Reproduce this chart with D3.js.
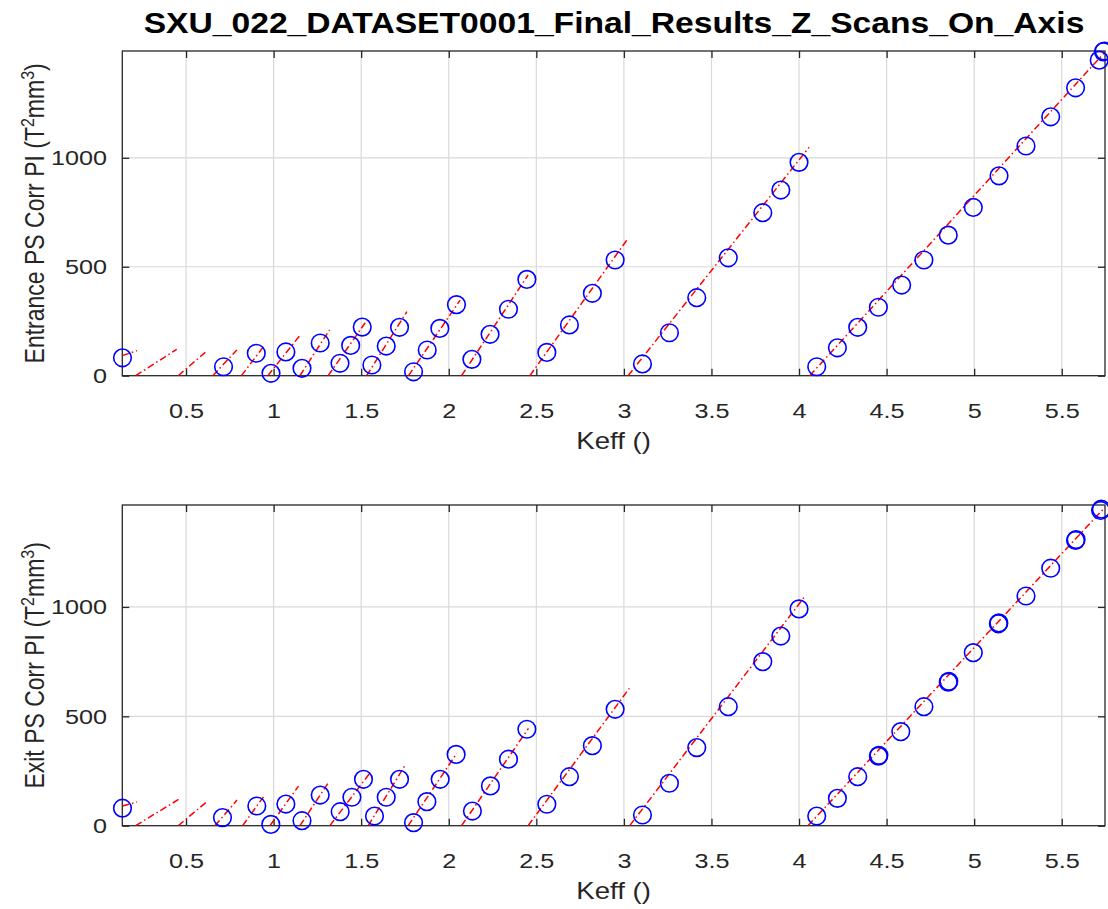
<!DOCTYPE html>
<html><head><meta charset="utf-8">
<script src="https://cdn.jsdelivr.net/npm/d3@7"></script>
<style>body{margin:0;background:#fff}svg{display:block}</style>
</head><body>
<svg id="chart" width="1108" height="909"></svg>
<script>
// ---------- data ----------
const chartTitle = "SXU_022_DATASET0001_Final_Results_Z_Scans_On_Axis";
const xLabel = "Keff ()";
const xTicks = [0.5, 1, 1.5, 2, 2.5, 3, 3.5, 4, 4.5, 5, 5.5];
const yTicks = [0, 500, 1000];
const xDomain = [0.136, 5.747];
const topYDomain = [0, 1490];
const botYDomain = [0, 1466];

// Entrance (top panel): measured points per Z scan
const topKeff = [
  [0.137], [], [], [0.714], [0.901], [0.985, 1.070], [1.162, 1.266],
  [1.379, 1.440, 1.506], [1.561, 1.643, 1.719], [1.799, 1.877, 1.949, 2.044],
  [2.132, 2.236, 2.341, 2.446], [2.560, 2.689, 2.820, 2.950],
  [3.106, 3.260, 3.416, 3.596, 3.793, 3.896, 4.000],
  [4.101, 4.219, 4.335, 4.453, 4.586, 4.713, 4.852, 4.995, 5.142, 5.296, 5.437, 5.579, 5.714, 5.738, 5.742]
];
const topPI = [
  [82], [], [], [41], [103], [11, 109], [34, 150],
  [57, 139, 223], [49, 136, 222], [18, 118, 217, 326],
  [75, 190, 305, 442], [107, 233, 378, 531],
  [54, 197, 358, 541, 748, 852, 979],
  [41, 128, 222, 314, 416, 531, 645, 772, 917, 1054, 1188, 1321, 1448, 1486, 1490]
];
// Entrance fit lines (start/end Keff, start/end PI)
const topFitKeff = [
  [0.136, 0.220], [0.212, 0.447], [0.455, 0.610], [0.653, 0.790], [0.816, 0.942],
  [0.967, 1.152], [1.150, 1.319], [1.311, 1.523], [1.531, 1.761], [1.770, 2.065],
  [2.073, 2.453], [2.463, 3.020], [3.024, 4.057], [4.061, 5.764]
];
const topFitPI = [
  [92, 115], [0, 121], [0, 107], [0, 118], [0, 133],
  [0, 187], [0, 210], [0, 243], [0, 294], [0, 347],
  [0, 462], [0, 626], [0, 1048], [0, 1500]
];

// Exit (bottom panel)
const botKeff = [
  [0.137], [], [], [0.708], [0.904], [0.984, 1.070], [1.162, 1.266],
  [1.380, 1.447, 1.513], [1.576, 1.643, 1.719], [1.799, 1.875, 1.951, 2.042],
  [2.135, 2.238, 2.341, 2.446], [2.560, 2.689, 2.820, 2.950],
  [3.106, 3.260, 3.416, 3.596, 3.793, 3.896, 4.000],
  [4.101, 4.219, 4.335, 4.453, 4.456, 4.581, 4.713, 4.852, 4.855, 4.995, 5.138, 5.141, 5.296, 5.437, 5.579, 5.582, 5.722, 5.726]
];
const botPI = [
  [80], [], [], [37], [90], [6, 99], [23, 140],
  [64, 130, 212], [44, 130, 212], [14, 110, 212, 326],
  [67, 182, 304, 441], [98, 224, 366, 532],
  [49, 194, 357, 544, 750, 867, 991],
  [44, 125, 224, 318, 322, 430, 544, 656, 660, 791, 923, 927, 1050, 1177, 1304, 1308, 1441, 1447]
];
const botFitKeff = [
  [0.136, 0.220], [0.212, 0.457], [0.455, 0.619], [0.665, 0.791], [0.823, 0.942],
  [0.979, 1.142], [1.150, 1.319], [1.321, 1.549], [1.540, 1.752], [1.768, 2.046],
  [2.073, 2.455], [2.453, 3.031], [3.033, 4.030], [4.051, 5.764]
];
const botFitPI = [
  [90, 108], [0, 120], [0, 110], [0, 117], [0, 132],
  [0, 181], [0, 204], [0, 240], [0, 278], [0, 331],
  [0, 445], [0, 628], [0, 1045], [0, 1470]
];

// ---------- drawing ----------
const svg = d3.select("#chart");
const FONT = "'Liberation Sans', Arial, Helvetica, sans-serif";
const TXT = "#262626";
const SX = 1.2; // horizontal stretch of the reference's text

svg.append("text")
  .attr("transform", "translate(614,33) scale(1.16,1)")
  .attr("text-anchor", "middle")
  .attr("font-family", FONT).attr("font-weight", "bold").attr("font-size", 29)
  .attr("fill", "#000")
  .text(chartTitle);

function panel(cfg) {
  const {left, right, top, bottom, yDomain, keff, pi, fitK, fitP, yLabelMain, id} = cfg;
  const x = d3.scaleLinear().domain(xDomain).range([left, right]);
  const y = d3.scaleLinear().domain(yDomain).range([bottom, top]);
  const g = svg.append("g");

  g.append("rect").attr("x", left).attr("y", top)
    .attr("width", right - left).attr("height", bottom - top).attr("fill", "#fff");

  // grid
  g.append("g").selectAll("line").data(xTicks).join("line")
    .attr("x1", d => x(d)).attr("x2", d => x(d))
    .attr("y1", top).attr("y2", bottom)
    .attr("stroke", "#d9d9d9").attr("stroke-width", 1.2);
  g.append("g").selectAll("line").data(yTicks.filter(d => d > 0)).join("line")
    .attr("y1", d => y(d)).attr("y2", d => y(d))
    .attr("x1", left).attr("x2", right)
    .attr("stroke", "#d9d9d9").attr("stroke-width", 1.2);

  // axes via d3 axis generators
  const tickLen = 7;
  const xAxB = d3.axisBottom(x).tickValues(xTicks).tickFormat(d3.format("")).tickSizeInner(-tickLen).tickSizeOuter(0).tickPadding(27);
  const xAxT = d3.axisTop(x).tickValues(xTicks).tickFormat("").tickSizeInner(-tickLen).tickSizeOuter(0);
  const yAxL = d3.axisLeft(y).tickValues(yTicks).tickFormat(d3.format("")).tickSizeInner(-tickLen).tickSizeOuter(0).tickPadding(12.8);
  const yAxR = d3.axisRight(y).tickValues(yTicks).tickFormat("").tickSizeInner(-tickLen).tickSizeOuter(0);

  const styleAxis = sel => {
    sel.select(".domain").remove();
    sel.selectAll("line").attr("stroke", TXT).attr("stroke-width", 1.3);
    sel.selectAll("text").attr("fill", TXT).attr("font-family", FONT).attr("font-size", 21)
      .attr("transform", `scale(${SX},1)`);
  };
  g.append("g").attr("transform", `translate(0,${bottom})`).call(xAxB).call(styleAxis);
  g.append("g").attr("transform", `translate(0,${top})`).call(xAxT).call(styleAxis);
  g.append("g").attr("transform", `translate(${left},0)`).call(yAxL).call(styleAxis);
  g.append("g").attr("transform", `translate(${right},0)`).call(yAxR).call(styleAxis);

  // box
  g.append("rect").attr("x", left).attr("y", top)
    .attr("width", right - left).attr("height", bottom - top)
    .attr("fill", "none").attr("stroke", TXT).attr("stroke-width", 1.3);

  // clip for fit lines
  svg.append("defs").append("clipPath").attr("id", id)
    .append("rect").attr("x", left).attr("y", top).attr("width", right - left).attr("height", bottom - top);

  const line = d3.line().x(d => x(d[0])).y(d => y(d[1]));
  const fits = fitK.map((k, i) => [[k[0], fitP[i][0]], [k[1], fitP[i][1]]]);
  g.append("g").attr("clip-path", `url(#${id})`)
    .selectAll("path").data(fits).join("path")
    .attr("d", line)
    .attr("fill", "none").attr("stroke", "#ff0000").attr("stroke-width", 1.5)
    .attr("stroke-dasharray", "7,3,1.5,3");

  const pts = [];
  keff.forEach((arr, gi) => arr.forEach((k, j) => pts.push([k, pi[gi][j]])));
  g.append("g").selectAll("circle").data(pts).join("circle")
    .attr("cx", d => x(d[0])).attr("cy", d => y(d[1])).attr("r", 8.8)
    .attr("fill", "none").attr("stroke", "#0000ff").attr("stroke-width", 1.6);

  // x label
  g.append("text")
    .attr("transform", `translate(${(left + right) / 2},${bottom + 73}) scale(${SX},1)`)
    .attr("text-anchor", "middle").attr("font-family", FONT).attr("font-size", 23)
    .attr("fill", TXT).text(xLabel);

  // y label with superscripts
  const yl = g.append("text")
    .attr("transform", `translate(44,${(top + bottom) / 2}) scale(${SX},1) rotate(-90)`)
    .attr("text-anchor", "middle").attr("font-family", FONT).attr("font-size", 23)
    .attr("fill", TXT);
  yl.append("tspan").text(yLabelMain + " (T");
  yl.append("tspan").attr("dy", -8).attr("font-size", 16).text("2");
  yl.append("tspan").attr("dy", 8).text("mm");
  yl.append("tspan").attr("dy", -8).attr("font-size", 16).text("3");
  yl.append("tspan").attr("dy", 8).text(")");
}

panel({left: 122.3, right: 1105, top: 51, bottom: 375.7, yDomain: topYDomain,
  keff: topKeff, pi: topPI, fitK: topFitKeff, fitP: topFitPI,
  yLabelMain: "Entrance PS Corr PI", id: "clipTop"});
panel({left: 122.3, right: 1105, top: 505, bottom: 825.7, yDomain: botYDomain,
  keff: botKeff, pi: botPI, fitK: botFitKeff, fitP: botFitPI,
  yLabelMain: "Exit PS Corr PI", id: "clipBot"});
</script>
</body></html>
